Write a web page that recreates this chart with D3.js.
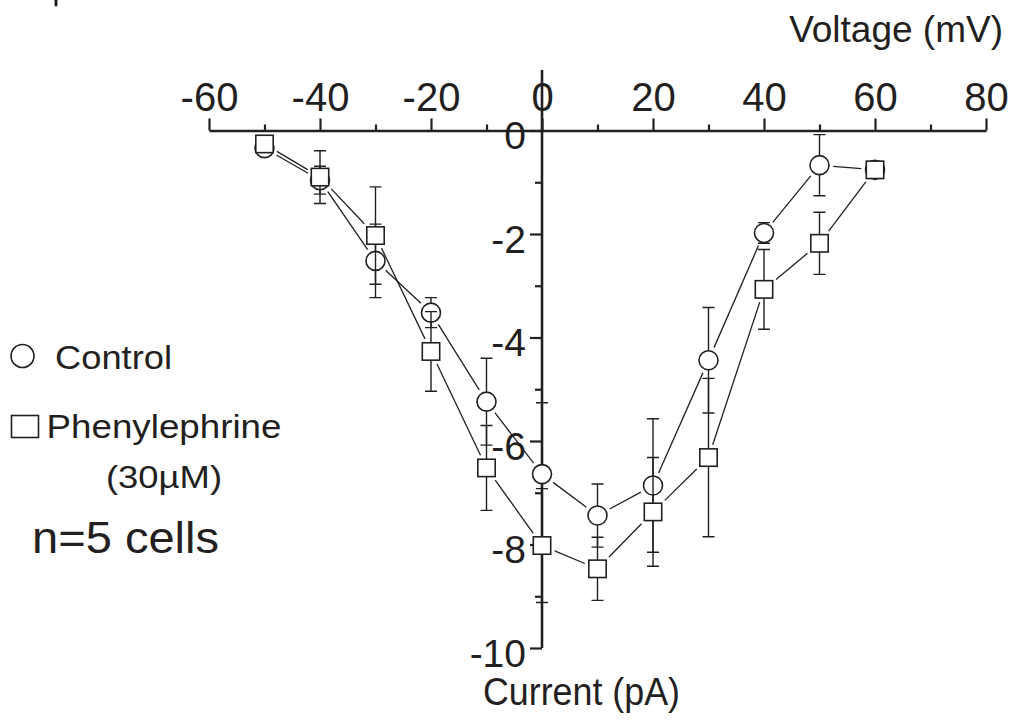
<!DOCTYPE html>
<html>
<head>
<meta charset="utf-8">
<script src="https://cdn.jsdelivr.net/npm/d3@7"></script>
<style>
  body { margin: 0; background: #fff; }
  svg { display: block; font-family: "Liberation Sans", Arial, Helvetica, sans-serif; }
</style>
</head>
<body>
<div id="chart"></div>
<script>
// data
const voltage = [-50, -40, -30, -20, -10, 0, 10, 20, 30, 40, 50, 60];
const controlMean = [-0.34, -0.96, -2.52, -3.52, -5.24, -6.64, -7.44, -6.86, -4.44, -1.98, -0.67, -0.76];
const controlSem = [0.08, 0.27, 0.71, 0.29, 0.84, 1.38, 0.61, 1.29, 1.02, 0.2, 0.59, 0.12];
const pheMean = [-0.26, -0.9, -2.03, -4.27, -6.52, -8.02, -8.47, -7.37, -6.32, -3.07, -2.18, -0.76];
const pheSem = [0.08, 0.51, 0.94, 0.77, 0.82, 1.1, 0.61, 1.05, 1.53, 0.77, 0.6, 0.08];
const xMajor = [-60, -40, -20, 0, 20, 40, 60, 80];
const xMinor = [-50, -30, -10, 10, 30, 50, 70];
const yMajor = [0, -2, -4, -6, -8, -10];
const yMinor = [-1, -3, -5, -7, -9];

const w = 1013, h = 724;
const ink = "#231f20";
const plain = d => String(d); // plain hyphen minus, like the original

const svg = d3.select("#chart").append("svg")
  .attr("width", w)
  .attr("height", h);

const x = d3.scaleLinear().domain([-60, 80]).range([209, 986]);
const y = d3.scaleLinear().domain([-10, 0]).range([648, 130.5]);

// x axis (ticks above the line, labels on top)
const xAxis = svg.append("g").attr("transform", `translate(0,${y(0)})`);
xAxis.call(d3.axisTop(x).tickValues(xMajor).tickSize(12).tickSizeOuter(0).tickPadding(7.5).tickFormat(plain));
xAxis.append("g").call(d3.axisTop(x).tickValues(xMinor).tickSize(6).tickFormat(""))
  .select(".domain").remove();
xAxis.selectAll("text").attr("font-size", 40).attr("fill", ink)
  .style("font-family", "Liberation Sans, Arial, sans-serif");

// y axis (ticks to the left)
const yAxis = svg.append("g").attr("transform", `translate(${x(0)},0)`);
yAxis.call(d3.axisLeft(y).tickValues(yMajor).tickSize(12).tickSizeOuter(0).tickPadding(4).tickFormat(plain));
yAxis.append("g").call(d3.axisLeft(y).tickValues(yMinor).tickSize(7).tickFormat(""))
  .select(".domain").remove();
yAxis.select(".domain").attr("d", `M0,${y(1.17)}V${y(-10)}`);
yAxis.selectAll("text").attr("font-size", 39).attr("fill", ink).attr("dy", "18px")
  .style("font-family", "Liberation Sans, Arial, sans-serif");

svg.selectAll(".domain").attr("stroke", ink).attr("stroke-width", 2.6);
svg.selectAll(".tick line").attr("stroke", ink).attr("stroke-width", 2.2);

// axis titles
svg.append("text").attr("x", 1003).attr("y", 42).attr("text-anchor", "end")
  .attr("font-size", 37).attr("fill", ink).text("Voltage (mV)");
svg.append("text").attr("x", 483).attr("y", 705)
  .attr("font-size", 38).attr("fill", ink)
  .attr("textLength", 197).attr("lengthAdjust", "spacingAndGlyphs").text("Current (pA)");

// stray mark at the top edge
svg.append("path").attr("d", "M56,0V5").attr("stroke", ink).attr("stroke-width", 3).attr("stroke-linecap", "round");

const R = 9.5, HS = 8.7, GAP = 4.3, CAP = 6;

function trim(shape, dx, dy) {
  if (shape === "circle") return R + GAP;
  const len = Math.hypot(dx, dy);
  return HS / Math.max(Math.abs(dx) / len, Math.abs(dy) / len) + GAP;
}

function drawSeries(mean, sem, shape) {
  const pts = voltage.map((v, i) => ({ px: x(v), py: y(mean[i]), lo: y(mean[i] - sem[i]), hi: y(mean[i] + sem[i]) }));
  const g = svg.append("g");

  // error bars
  const eb = g.append("g").attr("stroke", ink).attr("stroke-width", 1.4).attr("fill", "none");
  eb.selectAll("path").data(pts).join("path")
    .attr("d", d => `M${d.px},${d.hi}V${d.lo}M${d.px - CAP},${d.hi}H${d.px + CAP}M${d.px - CAP},${d.lo}H${d.px + CAP}`);

  // connecting segments with a gap at each marker
  const segs = d3.pairs(pts).map(([a, b]) => {
    const dx = b.px - a.px, dy = b.py - a.py, len = Math.hypot(dx, dy);
    const t = trim(shape, dx, dy);
    return { x1: a.px + dx / len * t, y1: a.py + dy / len * t, x2: b.px - dx / len * t, y2: b.py - dy / len * t };
  });
  g.append("g").selectAll("line").data(segs).join("line")
    .attr("x1", d => d.x1).attr("y1", d => d.y1).attr("x2", d => d.x2).attr("y2", d => d.y2)
    .attr("stroke", ink).attr("stroke-width", 1.3);

  // markers
  const mk = g.append("g").attr("fill", "#fff").attr("stroke", ink).attr("stroke-width", 1.6);
  if (shape === "circle") {
    mk.selectAll("circle").data(pts).join("circle")
      .attr("cx", d => d.px).attr("cy", d => d.py).attr("r", R);
  } else {
    mk.selectAll("rect").data(pts).join("rect")
      .attr("x", d => d.px - HS).attr("y", d => d.py - HS)
      .attr("width", HS * 2).attr("height", HS * 2);
  }
}

drawSeries(controlMean, controlSem, "circle");
drawSeries(pheMean, pheSem, "square");

// legend
const legend = svg.append("g").attr("fill", ink);
legend.append("circle").attr("cx", 22.5).attr("cy", 356).attr("r", 11.5)
  .attr("fill", "none").attr("stroke", ink).attr("stroke-width", 1.6);
legend.append("text").attr("x", 55).attr("y", 369).attr("font-size", 34)
  .attr("textLength", 117).attr("lengthAdjust", "spacingAndGlyphs").text("Control");
legend.append("rect").attr("x", 11.5).attr("y", 415.5).attr("width", 27).attr("height", 22)
  .attr("fill", "none").attr("stroke", ink).attr("stroke-width", 1.6);
legend.append("text").attr("x", 46.5).attr("y", 438).attr("font-size", 33)
  .attr("textLength", 235).attr("lengthAdjust", "spacingAndGlyphs").text("Phenylephrine");
legend.append("text").attr("x", 106).attr("y", 488).attr("font-size", 32)
  .attr("textLength", 116).attr("lengthAdjust", "spacingAndGlyphs").text("(30µM)");
legend.append("text").attr("x", 32).attr("y", 553).attr("font-size", 45)
  .attr("textLength", 187).attr("lengthAdjust", "spacingAndGlyphs").text("n=5 cells");
</script>
</body>
</html>
